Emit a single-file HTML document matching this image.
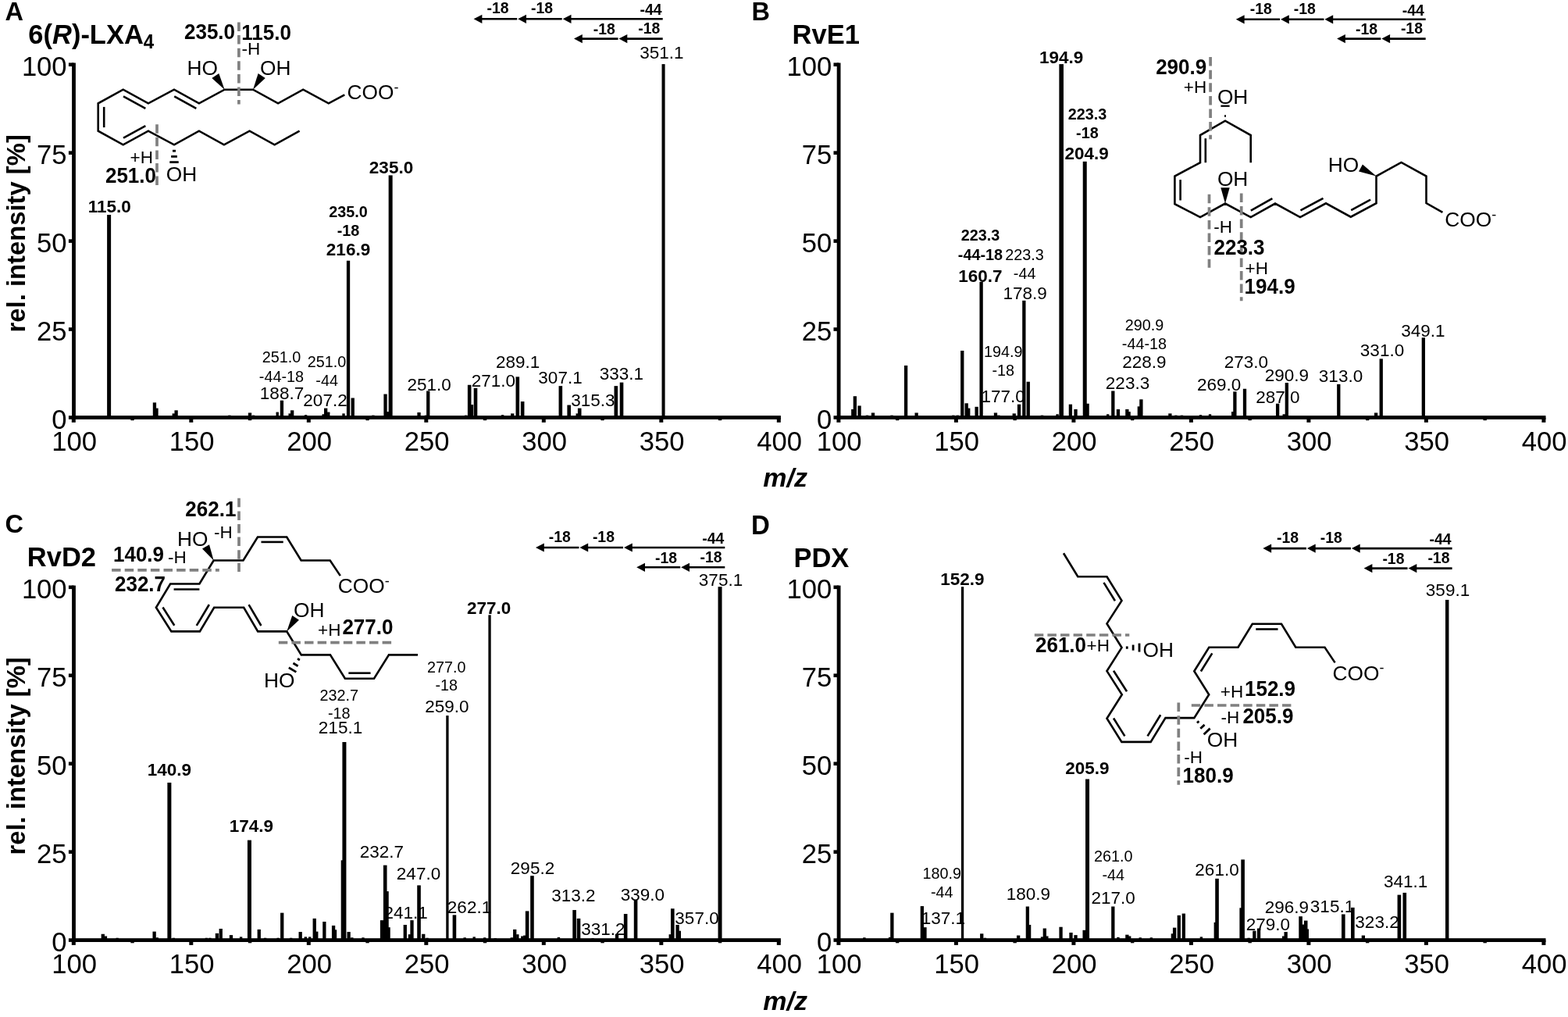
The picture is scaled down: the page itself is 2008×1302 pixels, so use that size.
<!DOCTYPE html>
<html lang="en">
<head>
<meta charset="utf-8">
<title>MS/MS spectra of 6(R)-LXA4, RvE1, RvD2 and PDX</title>
<style>
html,body{margin:0;padding:0;background:#fff;}
body{width:2008px;height:1302px;overflow:hidden;}
svg{display:block;font-family:'Liberation Sans', Arial, Helvetica, sans-serif;fill:#000;stroke:none;}
svg text{stroke:none;}
</style>
</head>
<body>
<svg width="2008" height="1302" viewBox="0 0 2008 1302">
<rect x="0" y="0" width="2008" height="1302" fill="#fff"/>
<text transform="matrix(1 0 0 1.04 6.4 26.1)" font-size="32.5" font-weight="bold">A</text>
<text transform="matrix(1 0 0 1.04 962.5 26.1)" font-size="32.5" font-weight="bold">B</text>
<text transform="matrix(1 0 0 1.04 6.4 682.3)" font-size="32.5" font-weight="bold">C</text>
<text transform="matrix(1 0 0 1.04 962 683.8)" font-size="33" font-weight="bold">D</text>
<text transform="matrix(1 0 0 1.04 36.3 56.2)" font-size="34.5" font-weight="bold">6(<tspan font-style="italic">R</tspan>)-LXA<tspan dy="6" font-size="24">4</tspan></text>
<text transform="matrix(1 0 0 1.04 1014.6 56.2)" font-size="34.5" font-weight="bold">RvE1</text>
<text transform="matrix(1 0 0 1.04 34.8 725.3)" font-size="34.5" font-weight="bold">RvD2</text>
<text transform="matrix(1 0 0 1.04 1016.4 725.6)" font-size="34.5" font-weight="bold">PDX</text>
<text transform="translate(32 298.8) rotate(-90) scale(1 1)" font-size="32.8" font-weight="bold" text-anchor="middle">rel. intensity [%]</text>
<text transform="translate(32 967.9) rotate(-90) scale(1 1)" font-size="32.8" font-weight="bold" text-anchor="middle">rel. intensity [%]</text>
<text transform="matrix(1 0 0 1 1005.6 623)" font-size="34" text-anchor="middle" font-weight="bold" font-style="italic">m/z</text>
<text transform="matrix(1 0 0 1 1005.6 1292.6)" font-size="34" text-anchor="middle" font-weight="bold" font-style="italic">m/z</text>
<rect x="92.1" y="80.5" width="4.8" height="456.4"/>
<rect x="92.1" y="532.1" width="907.8" height="4.8"/>
<rect x="87.9" y="532.2" width="6.6" height="4.6"/>
<text transform="matrix(1 0 0 1.03 85.6 548.9)" font-size="34.6" text-anchor="end">0</text>
<rect x="87.9" y="419.25" width="6.6" height="4.6"/>
<text transform="matrix(1 0 0 1.03 85.6 435.95)" font-size="34.6" text-anchor="end">25</text>
<rect x="87.9" y="306.3" width="6.6" height="4.6"/>
<text transform="matrix(1 0 0 1.03 85.6 323)" font-size="34.6" text-anchor="end">50</text>
<rect x="87.9" y="193.35" width="6.6" height="4.6"/>
<text transform="matrix(1 0 0 1.03 85.6 210.05)" font-size="34.6" text-anchor="end">75</text>
<rect x="87.9" y="80.4" width="6.6" height="4.6"/>
<text transform="matrix(1 0 0 1.03 85.6 97.1)" font-size="34.6" text-anchor="end">100</text>
<rect x="91.8" y="534.5" width="5" height="6.3"/>
<text transform="matrix(1 0 0 1.03 95.1 576.8)" font-size="34.6" text-anchor="middle">100</text>
<rect x="167.35" y="534.5" width="4.4" height="3.7"/>
<rect x="242.3" y="534.5" width="5" height="6.3"/>
<text transform="matrix(1 0 0 1.03 245.6 576.8)" font-size="34.6" text-anchor="middle">150</text>
<rect x="317.85" y="534.5" width="4.4" height="3.7"/>
<rect x="392.8" y="534.5" width="5" height="6.3"/>
<text transform="matrix(1 0 0 1.03 396.1 576.8)" font-size="34.6" text-anchor="middle">200</text>
<rect x="468.35" y="534.5" width="4.4" height="3.7"/>
<rect x="543.3" y="534.5" width="5" height="6.3"/>
<text transform="matrix(1 0 0 1.03 546.6 576.8)" font-size="34.6" text-anchor="middle">250</text>
<rect x="618.85" y="534.5" width="4.4" height="3.7"/>
<rect x="693.8" y="534.5" width="5" height="6.3"/>
<text transform="matrix(1 0 0 1.03 697.1 576.8)" font-size="34.6" text-anchor="middle">300</text>
<rect x="769.35" y="534.5" width="4.4" height="3.7"/>
<rect x="844.3" y="534.5" width="5" height="6.3"/>
<text transform="matrix(1 0 0 1.03 847.6 576.8)" font-size="34.6" text-anchor="middle">350</text>
<rect x="919.85" y="534.5" width="4.4" height="3.7"/>
<rect x="994.8" y="534.5" width="5" height="6.3"/>
<text transform="matrix(1 0 0 1.03 998.1 576.8)" font-size="34.6" text-anchor="middle">400</text>
<rect x="92.1" y="749.6" width="4.8" height="456.4"/>
<rect x="92.1" y="1201.2" width="907.8" height="4.8"/>
<rect x="87.9" y="1201.3" width="6.6" height="4.6"/>
<text transform="matrix(1 0 0 1.03 85.6 1218)" font-size="34.6" text-anchor="end">0</text>
<rect x="87.9" y="1088.35" width="6.6" height="4.6"/>
<text transform="matrix(1 0 0 1.03 85.6 1105.05)" font-size="34.6" text-anchor="end">25</text>
<rect x="87.9" y="975.4" width="6.6" height="4.6"/>
<text transform="matrix(1 0 0 1.03 85.6 992.1)" font-size="34.6" text-anchor="end">50</text>
<rect x="87.9" y="862.45" width="6.6" height="4.6"/>
<text transform="matrix(1 0 0 1.03 85.6 879.15)" font-size="34.6" text-anchor="end">75</text>
<rect x="87.9" y="749.5" width="6.6" height="4.6"/>
<text transform="matrix(1 0 0 1.03 85.6 766.2)" font-size="34.6" text-anchor="end">100</text>
<rect x="91.8" y="1203.6" width="5" height="6.3"/>
<text transform="matrix(1 0 0 1.03 95.1 1245.9)" font-size="34.6" text-anchor="middle">100</text>
<rect x="167.35" y="1203.6" width="4.4" height="3.7"/>
<rect x="242.3" y="1203.6" width="5" height="6.3"/>
<text transform="matrix(1 0 0 1.03 245.6 1245.9)" font-size="34.6" text-anchor="middle">150</text>
<rect x="317.85" y="1203.6" width="4.4" height="3.7"/>
<rect x="392.8" y="1203.6" width="5" height="6.3"/>
<text transform="matrix(1 0 0 1.03 396.1 1245.9)" font-size="34.6" text-anchor="middle">200</text>
<rect x="468.35" y="1203.6" width="4.4" height="3.7"/>
<rect x="543.3" y="1203.6" width="5" height="6.3"/>
<text transform="matrix(1 0 0 1.03 546.6 1245.9)" font-size="34.6" text-anchor="middle">250</text>
<rect x="618.85" y="1203.6" width="4.4" height="3.7"/>
<rect x="693.8" y="1203.6" width="5" height="6.3"/>
<text transform="matrix(1 0 0 1.03 697.1 1245.9)" font-size="34.6" text-anchor="middle">300</text>
<rect x="769.35" y="1203.6" width="4.4" height="3.7"/>
<rect x="844.3" y="1203.6" width="5" height="6.3"/>
<text transform="matrix(1 0 0 1.03 847.6 1245.9)" font-size="34.6" text-anchor="middle">350</text>
<rect x="919.85" y="1203.6" width="4.4" height="3.7"/>
<rect x="994.8" y="1203.6" width="5" height="6.3"/>
<text transform="matrix(1 0 0 1.03 998.1 1245.9)" font-size="34.6" text-anchor="middle">400</text>
<rect x="1071.7" y="80.5" width="4.8" height="456.4"/>
<rect x="1071.7" y="532.1" width="907.8" height="4.8"/>
<rect x="1067.5" y="532.2" width="6.6" height="4.6"/>
<text transform="matrix(1 0 0 1.03 1065.2 548.9)" font-size="34.6" text-anchor="end">0</text>
<rect x="1067.5" y="419.25" width="6.6" height="4.6"/>
<text transform="matrix(1 0 0 1.03 1065.2 435.95)" font-size="34.6" text-anchor="end">25</text>
<rect x="1067.5" y="306.3" width="6.6" height="4.6"/>
<text transform="matrix(1 0 0 1.03 1065.2 323)" font-size="34.6" text-anchor="end">50</text>
<rect x="1067.5" y="193.35" width="6.6" height="4.6"/>
<text transform="matrix(1 0 0 1.03 1065.2 210.05)" font-size="34.6" text-anchor="end">75</text>
<rect x="1067.5" y="80.4" width="6.6" height="4.6"/>
<text transform="matrix(1 0 0 1.03 1065.2 97.1)" font-size="34.6" text-anchor="end">100</text>
<rect x="1071.4" y="534.5" width="5" height="6.3"/>
<text transform="matrix(1 0 0 1.03 1074.7 576.8)" font-size="34.6" text-anchor="middle">100</text>
<rect x="1146.95" y="534.5" width="4.4" height="3.7"/>
<rect x="1221.9" y="534.5" width="5" height="6.3"/>
<text transform="matrix(1 0 0 1.03 1225.2 576.8)" font-size="34.6" text-anchor="middle">150</text>
<rect x="1297.45" y="534.5" width="4.4" height="3.7"/>
<rect x="1372.4" y="534.5" width="5" height="6.3"/>
<text transform="matrix(1 0 0 1.03 1375.7 576.8)" font-size="34.6" text-anchor="middle">200</text>
<rect x="1447.95" y="534.5" width="4.4" height="3.7"/>
<rect x="1522.9" y="534.5" width="5" height="6.3"/>
<text transform="matrix(1 0 0 1.03 1526.2 576.8)" font-size="34.6" text-anchor="middle">250</text>
<rect x="1598.45" y="534.5" width="4.4" height="3.7"/>
<rect x="1673.4" y="534.5" width="5" height="6.3"/>
<text transform="matrix(1 0 0 1.03 1676.7 576.8)" font-size="34.6" text-anchor="middle">300</text>
<rect x="1748.95" y="534.5" width="4.4" height="3.7"/>
<rect x="1823.9" y="534.5" width="5" height="6.3"/>
<text transform="matrix(1 0 0 1.03 1827.2 576.8)" font-size="34.6" text-anchor="middle">350</text>
<rect x="1899.45" y="534.5" width="4.4" height="3.7"/>
<rect x="1974.4" y="534.5" width="5" height="6.3"/>
<text transform="matrix(1 0 0 1.03 1977.7 576.8)" font-size="34.6" text-anchor="middle">400</text>
<rect x="1071.7" y="749.6" width="4.8" height="456.4"/>
<rect x="1071.7" y="1201.2" width="907.8" height="4.8"/>
<rect x="1067.5" y="1201.3" width="6.6" height="4.6"/>
<text transform="matrix(1 0 0 1.03 1065.2 1218)" font-size="34.6" text-anchor="end">0</text>
<rect x="1067.5" y="1088.35" width="6.6" height="4.6"/>
<text transform="matrix(1 0 0 1.03 1065.2 1105.05)" font-size="34.6" text-anchor="end">25</text>
<rect x="1067.5" y="975.4" width="6.6" height="4.6"/>
<text transform="matrix(1 0 0 1.03 1065.2 992.1)" font-size="34.6" text-anchor="end">50</text>
<rect x="1067.5" y="862.45" width="6.6" height="4.6"/>
<text transform="matrix(1 0 0 1.03 1065.2 879.15)" font-size="34.6" text-anchor="end">75</text>
<rect x="1067.5" y="749.5" width="6.6" height="4.6"/>
<text transform="matrix(1 0 0 1.03 1065.2 766.2)" font-size="34.6" text-anchor="end">100</text>
<rect x="1071.4" y="1203.6" width="5" height="6.3"/>
<text transform="matrix(1 0 0 1.03 1074.7 1245.9)" font-size="34.6" text-anchor="middle">100</text>
<rect x="1146.95" y="1203.6" width="4.4" height="3.7"/>
<rect x="1221.9" y="1203.6" width="5" height="6.3"/>
<text transform="matrix(1 0 0 1.03 1225.2 1245.9)" font-size="34.6" text-anchor="middle">150</text>
<rect x="1297.45" y="1203.6" width="4.4" height="3.7"/>
<rect x="1372.4" y="1203.6" width="5" height="6.3"/>
<text transform="matrix(1 0 0 1.03 1375.7 1245.9)" font-size="34.6" text-anchor="middle">200</text>
<rect x="1447.95" y="1203.6" width="4.4" height="3.7"/>
<rect x="1522.9" y="1203.6" width="5" height="6.3"/>
<text transform="matrix(1 0 0 1.03 1526.2 1245.9)" font-size="34.6" text-anchor="middle">250</text>
<rect x="1598.45" y="1203.6" width="4.4" height="3.7"/>
<rect x="1673.4" y="1203.6" width="5" height="6.3"/>
<text transform="matrix(1 0 0 1.03 1676.7 1245.9)" font-size="34.6" text-anchor="middle">300</text>
<rect x="1748.95" y="1203.6" width="4.4" height="3.7"/>
<rect x="1823.9" y="1203.6" width="5" height="6.3"/>
<text transform="matrix(1 0 0 1.03 1827.2 1245.9)" font-size="34.6" text-anchor="middle">350</text>
<rect x="1899.45" y="1203.6" width="4.4" height="3.7"/>
<rect x="1974.4" y="1203.6" width="5" height="6.3"/>
<text transform="matrix(1 0 0 1.03 1977.7 1245.9)" font-size="34.6" text-anchor="middle">400</text>
<rect x="137.11" y="275.02" width="5" height="259.48"/>
<rect x="195.79" y="515.38" width="4.3" height="19.12"/>
<rect x="199.25" y="522.61" width="3.4" height="11.89"/>
<rect x="220.6" y="529.38" width="3.4" height="5.12"/>
<rect x="223.46" y="525.32" width="4.3" height="9.18"/>
<rect x="292.16" y="531.64" width="3.4" height="2.86"/>
<rect x="317.88" y="528.48" width="4.3" height="6.02"/>
<rect x="322.84" y="531.64" width="3.4" height="2.86"/>
<rect x="353.51" y="527.57" width="3.4" height="6.93"/>
<rect x="358.77" y="512.67" width="4.3" height="21.83"/>
<rect x="369.44" y="529.38" width="3.4" height="5.12"/>
<rect x="372" y="525.32" width="4.3" height="9.18"/>
<rect x="389.89" y="531.19" width="3.4" height="3.31"/>
<rect x="412.44" y="530.29" width="3.4" height="4.21"/>
<rect x="415" y="522.61" width="4.3" height="11.89"/>
<rect x="419.06" y="527.57" width="3.4" height="6.93"/>
<rect x="438.3" y="529.38" width="3.4" height="5.12"/>
<rect x="443.87" y="333.75" width="4.3" height="200.75"/>
<rect x="449.58" y="509.5" width="4.3" height="25"/>
<rect x="476.19" y="531.64" width="3.4" height="2.86"/>
<rect x="491.38" y="504.53" width="4.3" height="29.97"/>
<rect x="494.84" y="527.12" width="3.4" height="7.38"/>
<rect x="497.64" y="224.42" width="5" height="310.08"/>
<rect x="534.38" y="528.03" width="4.3" height="6.47"/>
<rect x="543.85" y="531.64" width="3.4" height="2.86"/>
<rect x="546.11" y="500.47" width="4.3" height="34.03"/>
<rect x="594.97" y="531.64" width="3.4" height="2.86"/>
<rect x="598.88" y="492.79" width="4.6" height="41.71"/>
<rect x="602.79" y="518.09" width="3.4" height="16.41"/>
<rect x="606.7" y="496.85" width="4.6" height="37.65"/>
<rect x="641.88" y="531.19" width="3.4" height="3.31"/>
<rect x="654.06" y="529.38" width="4.3" height="5.12"/>
<rect x="660.52" y="482.39" width="4.6" height="52.11"/>
<rect x="666.84" y="514.02" width="4.6" height="20.48"/>
<rect x="715.55" y="494.14" width="4.6" height="40.36"/>
<rect x="726.38" y="518.54" width="4.6" height="15.96"/>
<rect x="737.5" y="529.38" width="3.4" height="5.12"/>
<rect x="739.91" y="522.61" width="4.6" height="11.89"/>
<rect x="786.52" y="494.14" width="4.6" height="40.36"/>
<rect x="793.73" y="489.62" width="4.6" height="44.88"/>
<rect x="847.53" y="82.1" width="4.05" height="452.4"/>
<text transform="matrix(1 0 0 1.03 360.4 464.2)" font-size="19.8" text-anchor="middle">251.0</text>
<text transform="matrix(1 0 0 1.03 360.4 488.6)" font-size="19.8" text-anchor="middle">-44-18</text>
<text transform="matrix(1 0 0 0.97 361 510.6)" font-size="22.5" text-anchor="middle">188.7</text>
<text transform="matrix(1 0 0 1.03 418.6 470.3)" font-size="19.8" text-anchor="middle">251.0</text>
<text transform="matrix(1 0 0 1.03 418.6 493.9)" font-size="19.8" text-anchor="middle">-44</text>
<text transform="matrix(1 0 0 0.97 416.5 519.8)" font-size="22.5" text-anchor="middle">207.2</text>
<text transform="matrix(1 0 0 0.97 549.6 500.2)" font-size="22.5" text-anchor="middle">251.0</text>
<text transform="matrix(1 0 0 0.97 631.9 494.5)" font-size="22.5" text-anchor="middle">271.0</text>
<text transform="matrix(1 0 0 0.97 663.2 470.9)" font-size="22.5" text-anchor="middle">289.1</text>
<text transform="matrix(1 0 0 0.97 717.5 491.1)" font-size="22.5" text-anchor="middle">307.1</text>
<text transform="matrix(1 0 0 0.97 759.3 520)" font-size="22.5" text-anchor="middle">315.3</text>
<text transform="matrix(1 0 0 0.97 795.9 486.4)" font-size="22.5" text-anchor="middle">333.1</text>
<text transform="matrix(1 0 0 0.97 847.3 75.2)" font-size="22.5" text-anchor="middle">351.1</text>
<text transform="matrix(1 0 0 0.97 140.3 272.1)" font-size="22.5" text-anchor="middle" font-weight="bold">115.0</text>
<text transform="matrix(1 0 0 1.03 446 278.1)" font-size="19.8" text-anchor="middle" font-weight="bold">235.0</text>
<text transform="matrix(1 0 0 1.03 446 302)" font-size="19.8" text-anchor="middle" font-weight="bold">-18</text>
<text transform="matrix(1 0 0 0.97 446 326.5)" font-size="22.5" text-anchor="middle" font-weight="bold">216.9</text>
<text transform="matrix(1 0 0 0.97 501 222)" font-size="22.5" text-anchor="middle" font-weight="bold">235.0</text>
<line x1="730.2" y1="24.3" x2="848.7" y2="24.3" stroke-width="2.6" stroke="#000"/>
<polygon points="720.7,24.3 731.5,18.7 731.5,29.9"/>
<line x1="672.7" y1="24.3" x2="719.7" y2="24.3" stroke-width="2.6" stroke="#000"/>
<polygon points="663.2,24.3 674,18.7 674,29.9"/>
<line x1="616.1" y1="24.3" x2="662.2" y2="24.3" stroke-width="2.6" stroke="#000"/>
<polygon points="606.6,24.3 617.4,18.7 617.4,29.9"/>
<line x1="802" y1="49.6" x2="848.7" y2="49.6" stroke-width="2.6" stroke="#000"/>
<polygon points="792.5,49.6 803.3,44 803.3,55.2"/>
<line x1="744.5" y1="49.6" x2="791.5" y2="49.6" stroke-width="2.6" stroke="#000"/>
<polygon points="735,49.6 745.8,44 745.8,55.2"/>
<text transform="matrix(1 0 0 1.01 637.6 17.2)" font-size="19.4" text-anchor="middle" font-weight="bold">-18</text>
<text transform="matrix(1 0 0 1.01 694 17.2)" font-size="19.4" text-anchor="middle" font-weight="bold">-18</text>
<text transform="matrix(1 0 0 1.01 833.5 19.2)" font-size="19.4" text-anchor="middle" font-weight="bold">-44</text>
<text transform="matrix(1 0 0 1.01 773.7 44.2)" font-size="19.4" text-anchor="middle" font-weight="bold">-18</text>
<text transform="matrix(1 0 0 1.01 831.2 43)" font-size="19.4" text-anchor="middle" font-weight="bold">-18</text>
<polyline points="383.6,167.6 351.6,185.3 319.6,167.7 286.9,185.3 254.9,167.7 223,185.3 189.9,167.7 157.7,185.3 125.7,167.7 125.7,132.3 157.7,114.7 189.9,132.3 223,114.7 254.9,132.3 287.6,114.7 324,114.7 356.1,132.3 388.2,114.7 420.8,132.3 441.3,121.4" fill="none" stroke="#000" stroke-width="2.6" stroke-linejoin="miter" stroke-linecap="butt"/>
<line x1="133.2" y1="163.1" x2="133.2" y2="136.9" stroke-width="2.6" stroke="#000"/>
<line x1="158.01" y1="123.31" x2="186.35" y2="138.79" stroke-width="2.6" stroke="#000"/>
<line x1="223.25" y1="123.29" x2="251.33" y2="138.78" stroke-width="2.6" stroke="#000"/>
<line x1="186.35" y1="161.21" x2="158.01" y2="176.69" stroke-width="2.6" stroke="#000"/>
<polygon points="287.6,114.7 280.29,94 271.31,100"/>
<polygon points="324,114.7 339.76,99.89 330.64,94.11"/>
<line x1="225.02" y1="193.19" x2="220.98" y2="193.19" stroke-width="2.8" stroke="#000"/>
<line x1="226.86" y1="200.4" x2="219.14" y2="200.4" stroke-width="2.8" stroke="#000"/>
<line x1="228.7" y1="207.6" x2="217.3" y2="207.6" stroke-width="2.8" stroke="#000"/>
<text transform="matrix(1 0 0 1 239.4 96.4)" font-size="26.3">HO</text>
<text transform="matrix(1 0 0 1 333 96.4)" font-size="26.3">OH</text>
<text transform="matrix(1 0 0 1 212.8 231.6)" font-size="26.3">OH</text>
<text transform="matrix(1 0 0 1 444.6 127.1)" font-size="26.3">COO<tspan dy="-9.5" font-size="18">-</tspan></text>
<line x1="305.9" y1="28.5" x2="305.9" y2="133.5" stroke="#808080" stroke-width="3.7" stroke-dasharray="11.5 5.1"/>
<line x1="201" y1="159.2" x2="201" y2="237.5" stroke="#808080" stroke-width="3.7" stroke-dasharray="11.5 5.1"/>
<text transform="matrix(1 0 0 1.04 268.5 50.4)" font-size="26" text-anchor="middle" font-weight="bold">235.0</text>
<text transform="matrix(1 0 0 1.04 341.1 50.7)" font-size="26" text-anchor="middle" font-weight="bold">115.0</text>
<text transform="matrix(1 0 0 0.97 309.4 69.6)" font-size="22.5">-H</text>
<text transform="matrix(1 0 0 0.97 196 209.4)" font-size="22.5" text-anchor="end">+H</text>
<text transform="matrix(1 0 0 1.04 200 233.6)" font-size="26" text-anchor="end" font-weight="bold">251.0</text>
<rect x="1090.14" y="523.96" width="3.4" height="10.54"/>
<rect x="1092.7" y="507.24" width="4.3" height="27.26"/>
<rect x="1098.41" y="519.44" width="4.3" height="15.06"/>
<rect x="1108.78" y="531.64" width="3.4" height="2.86"/>
<rect x="1115.85" y="528.48" width="4.3" height="6.02"/>
<rect x="1140.36" y="531.64" width="3.4" height="2.86"/>
<rect x="1157.95" y="467.94" width="4.3" height="66.56"/>
<rect x="1171.48" y="528.48" width="4.3" height="6.02"/>
<rect x="1219.14" y="531.64" width="3.4" height="2.86"/>
<rect x="1224.55" y="531.64" width="3.4" height="2.86"/>
<rect x="1230.12" y="448.96" width="4.3" height="85.54"/>
<rect x="1235.53" y="516.28" width="4.3" height="18.22"/>
<rect x="1238.99" y="522.61" width="3.4" height="11.89"/>
<rect x="1248.46" y="520.8" width="4.3" height="13.7"/>
<rect x="1254.47" y="360.86" width="4.3" height="173.64"/>
<rect x="1272.82" y="528.48" width="4.3" height="6.02"/>
<rect x="1277.18" y="531.64" width="3.4" height="2.86"/>
<rect x="1296.57" y="529.38" width="4.3" height="5.12"/>
<rect x="1302.89" y="517.64" width="4.3" height="16.86"/>
<rect x="1309.2" y="384.81" width="4.3" height="149.69"/>
<rect x="1314.61" y="488.72" width="4.3" height="45.78"/>
<rect x="1332.81" y="531.64" width="3.4" height="2.86"/>
<rect x="1352.35" y="530.29" width="3.4" height="4.21"/>
<rect x="1356.36" y="82.1" width="5.6" height="452.4"/>
<rect x="1368.74" y="517.64" width="4.3" height="16.86"/>
<rect x="1375.36" y="523.96" width="4.3" height="10.54"/>
<rect x="1386.73" y="206.8" width="5" height="327.7"/>
<rect x="1390.94" y="516.73" width="3.8" height="17.77"/>
<rect x="1417" y="530.29" width="3.4" height="4.21"/>
<rect x="1423.17" y="500.47" width="4.3" height="34.03"/>
<rect x="1429.78" y="523.96" width="4.3" height="10.54"/>
<rect x="1441.21" y="523.96" width="4.3" height="10.54"/>
<rect x="1444.37" y="527.12" width="3.4" height="7.38"/>
<rect x="1456.69" y="520.35" width="3.4" height="14.15"/>
<rect x="1459.25" y="511.31" width="4.3" height="23.19"/>
<rect x="1496.24" y="529.38" width="4.3" height="5.12"/>
<rect x="1504.2" y="531.64" width="3.4" height="2.86"/>
<rect x="1511.72" y="531.64" width="3.4" height="2.86"/>
<rect x="1535.78" y="531.19" width="3.4" height="3.31"/>
<rect x="1547.81" y="530.29" width="3.4" height="4.21"/>
<rect x="1576.97" y="527.12" width="3.4" height="7.38"/>
<rect x="1579.23" y="501.37" width="4.3" height="33.13"/>
<rect x="1591.86" y="497.76" width="4.3" height="36.74"/>
<rect x="1633.96" y="516.73" width="4.3" height="17.77"/>
<rect x="1642.53" y="530.29" width="3.4" height="4.21"/>
<rect x="1645.68" y="490.08" width="4.3" height="44.42"/>
<rect x="1712.14" y="491.88" width="4.3" height="42.62"/>
<rect x="1759.95" y="528.48" width="4.3" height="6.02"/>
<rect x="1766.57" y="459.35" width="4.3" height="75.15"/>
<rect x="1820.69" y="432.25" width="4.3" height="102.25"/>
<text transform="matrix(1 0 0 1.03 1312.1 333)" font-size="19.8" text-anchor="middle">223.3</text>
<text transform="matrix(1 0 0 1.03 1312.1 356.6)" font-size="19.8" text-anchor="middle">-44</text>
<text transform="matrix(1 0 0 0.97 1312.6 382.7)" font-size="22.5" text-anchor="middle">178.9</text>
<text transform="matrix(1 0 0 1.03 1284.7 457.1)" font-size="19.8" text-anchor="middle">194.9</text>
<text transform="matrix(1 0 0 1.03 1284.7 480.6)" font-size="19.8" text-anchor="middle">-18</text>
<text transform="matrix(1 0 0 0.97 1284.7 514.6)" font-size="22.5" text-anchor="middle">177.0</text>
<text transform="matrix(1 0 0 1.03 1465.4 423.2)" font-size="19.8" text-anchor="middle">290.9</text>
<text transform="matrix(1 0 0 1.03 1465.4 447.2)" font-size="19.8" text-anchor="middle">-44-18</text>
<text transform="matrix(1 0 0 0.97 1465.4 470.8)" font-size="22.5" text-anchor="middle">228.9</text>
<text transform="matrix(1 0 0 0.97 1444 498.3)" font-size="22.5" text-anchor="middle">223.3</text>
<text transform="matrix(1 0 0 0.97 1561.1 499.7)" font-size="22.5" text-anchor="middle">269.0</text>
<text transform="matrix(1 0 0 0.97 1595.9 471)" font-size="22.5" text-anchor="middle">273.0</text>
<text transform="matrix(1 0 0 0.97 1636.3 515.9)" font-size="22.5" text-anchor="middle">287.0</text>
<text transform="matrix(1 0 0 0.97 1647.8 487.9)" font-size="22.5" text-anchor="middle">290.9</text>
<text transform="matrix(1 0 0 0.97 1717 489.2)" font-size="22.5" text-anchor="middle">313.0</text>
<text transform="matrix(1 0 0 0.97 1770 456.3)" font-size="22.5" text-anchor="middle">331.0</text>
<text transform="matrix(1 0 0 0.97 1822.3 431)" font-size="22.5" text-anchor="middle">349.1</text>
<text transform="matrix(1 0 0 0.97 1359.1 81)" font-size="22.5" text-anchor="middle" font-weight="bold">194.9</text>
<text transform="matrix(1 0 0 1.03 1392.4 152.8)" font-size="19.8" text-anchor="middle" font-weight="bold">223.3</text>
<text transform="matrix(1 0 0 1.03 1392.4 177.4)" font-size="19.8" text-anchor="middle" font-weight="bold">-18</text>
<text transform="matrix(1 0 0 0.97 1391.7 203.7)" font-size="22.5" text-anchor="middle" font-weight="bold">204.9</text>
<text transform="matrix(1 0 0 1.03 1255.4 308.2)" font-size="19.8" text-anchor="middle" font-weight="bold">223.3</text>
<text transform="matrix(1 0 0 1.03 1255.4 333)" font-size="19.8" text-anchor="middle" font-weight="bold">-44-18</text>
<text transform="matrix(1 0 0 0.97 1255.4 360.5)" font-size="22.5" text-anchor="middle" font-weight="bold">160.7</text>
<line x1="1705.9" y1="24.8" x2="1825.7" y2="24.8" stroke-width="2.6" stroke="#000"/>
<polygon points="1696.4,24.8 1707.2,19.2 1707.2,30.4"/>
<line x1="1649.5" y1="24.8" x2="1695.4" y2="24.8" stroke-width="2.6" stroke="#000"/>
<polygon points="1640,24.8 1650.8,19.2 1650.8,30.4"/>
<line x1="1592.3" y1="24.8" x2="1639" y2="24.8" stroke-width="2.6" stroke="#000"/>
<polygon points="1582.8,24.8 1593.6,19.2 1593.6,30.4"/>
<line x1="1778.8" y1="49.6" x2="1825.7" y2="49.6" stroke-width="2.6" stroke="#000"/>
<polygon points="1769.3,49.6 1780.1,44 1780.1,55.2"/>
<line x1="1721.6" y1="49.6" x2="1768.3" y2="49.6" stroke-width="2.6" stroke="#000"/>
<polygon points="1712.1,49.6 1722.9,44 1722.9,55.2"/>
<text transform="matrix(1 0 0 1.01 1614.7 17.8)" font-size="19.4" text-anchor="middle" font-weight="bold">-18</text>
<text transform="matrix(1 0 0 1.01 1670.8 17.8)" font-size="19.4" text-anchor="middle" font-weight="bold">-18</text>
<text transform="matrix(1 0 0 1.01 1809.8 19.6)" font-size="19.4" text-anchor="middle" font-weight="bold">-44</text>
<text transform="matrix(1 0 0 1.01 1750 43.9)" font-size="19.4" text-anchor="middle" font-weight="bold">-18</text>
<text transform="matrix(1 0 0 1.01 1807.9 42.6)" font-size="19.4" text-anchor="middle" font-weight="bold">-18</text>
<polyline points="1601.7,208.2 1601.7,173 1569,154.7 1537,173 1537,208.2 1504.4,225.5 1504.4,261.1 1537,278.1 1569,260.5 1601.7,278.1 1633,260.5 1665,278.1 1698,260.3 1729.8,277.7 1762.5,260.1 1762.5,225.5 1794.5,207.9 1826.5,225.5 1826.5,260.1 1847.4,271.9" fill="none" stroke="#000" stroke-width="2.6" stroke-linejoin="miter" stroke-linecap="butt"/>
<line x1="1543.8" y1="177.22" x2="1543.8" y2="208.2" stroke-width="2.6" stroke="#000"/>
<line x1="1511.6" y1="230.13" x2="1511.6" y2="256.47" stroke-width="2.6" stroke="#000"/>
<line x1="1601.83" y1="269.54" x2="1629.37" y2="254.05" stroke-width="2.6" stroke="#000"/>
<line x1="1665.45" y1="269.45" x2="1694.49" y2="253.79" stroke-width="2.6" stroke="#000"/>
<line x1="1730.22" y1="269.07" x2="1755.07" y2="255.7" stroke-width="2.6" stroke="#000"/>
<polygon points="1569,260.5 1574.7,240.2 1563.3,240.2"/>
<polygon points="1762.5,225.5 1744.92,210.4 1740.08,219.6"/>
<line x1="1568" y1="148.5" x2="1570" y2="148.5" stroke-width="2.3" stroke="#000"/>
<line x1="1563.4" y1="135.7" x2="1574.6" y2="135.7" stroke-width="2.3" stroke="#000"/>
<text transform="matrix(1 0 0 1 1558.9 132.5)" font-size="26.3">OH</text>
<text transform="matrix(1 0 0 1 1558.9 237.6)" font-size="26.3">OH</text>
<text transform="matrix(1 0 0 1 1700.8 220.3)" font-size="26.3">HO</text>
<text transform="matrix(1 0 0 1 1850.3 290.1)" font-size="26.3">COO<tspan dy="-9.5" font-size="18">-</tspan></text>
<line x1="1550.1" y1="73.1" x2="1550.1" y2="178.2" stroke="#808080" stroke-width="3.7" stroke-dasharray="11.5 5.1"/>
<line x1="1548.5" y1="248.7" x2="1548.5" y2="342.7" stroke="#808080" stroke-width="3.7" stroke-dasharray="11.5 5.1"/>
<line x1="1589.7" y1="247.4" x2="1589.7" y2="385.2" stroke="#808080" stroke-width="3.7" stroke-dasharray="11.5 5.1"/>
<text transform="matrix(1 0 0 1.04 1545.2 95.3)" font-size="26" text-anchor="end" font-weight="bold">290.9</text>
<text transform="matrix(1 0 0 0.97 1545.2 119.4)" font-size="22.5" text-anchor="end">+H</text>
<text transform="matrix(1 0 0 0.97 1554.2 298.3)" font-size="22.5">-H</text>
<text transform="matrix(1 0 0 1.04 1554.5 325.5)" font-size="26" font-weight="bold">223.3</text>
<text transform="matrix(1 0 0 0.97 1594.6 350.6)" font-size="22.5">+H</text>
<text transform="matrix(1 0 0 1.04 1593.6 376)" font-size="26" font-weight="bold">194.9</text>
<rect x="129.64" y="1195.77" width="4.3" height="7.83"/>
<rect x="133.7" y="1198.48" width="3.4" height="5.12"/>
<rect x="148.43" y="1200.74" width="3.4" height="2.86"/>
<rect x="195.49" y="1192.61" width="4.3" height="10.99"/>
<rect x="199.55" y="1200.29" width="3.4" height="3.31"/>
<rect x="214.38" y="1001.95" width="5" height="201.65"/>
<rect x="220.6" y="1200.74" width="3.4" height="2.86"/>
<rect x="262.7" y="1200.74" width="3.4" height="2.86"/>
<rect x="267.21" y="1200.74" width="3.4" height="2.86"/>
<rect x="275.78" y="1194.87" width="4.3" height="8.73"/>
<rect x="280.59" y="1188.99" width="4.3" height="14.61"/>
<rect x="293.82" y="1197.13" width="4.3" height="6.47"/>
<rect x="306.9" y="1199.39" width="3.4" height="4.21"/>
<rect x="316.92" y="1075.59" width="5" height="128.01"/>
<rect x="329.6" y="1189.9" width="4.3" height="13.7"/>
<rect x="337.87" y="1200.74" width="3.4" height="2.86"/>
<rect x="354.41" y="1200.74" width="3.4" height="2.86"/>
<rect x="359.07" y="1168.66" width="4.3" height="34.94"/>
<rect x="370.95" y="1200.74" width="3.4" height="2.86"/>
<rect x="382.53" y="1193.06" width="4.3" height="10.54"/>
<rect x="389.59" y="1199.39" width="3.4" height="4.21"/>
<rect x="395" y="1199.39" width="3.4" height="4.21"/>
<rect x="400.57" y="1175.89" width="4.3" height="27.71"/>
<rect x="404.02" y="1192.61" width="3.4" height="10.99"/>
<rect x="413.2" y="1179.96" width="4.3" height="23.64"/>
<rect x="424.92" y="1184.93" width="4.3" height="18.67"/>
<rect x="427.78" y="1190.35" width="3.4" height="13.25"/>
<rect x="436.7" y="1101.34" width="3" height="102.25"/>
<rect x="438.41" y="949.99" width="5" height="253.61"/>
<rect x="444.47" y="1193.06" width="4.3" height="10.54"/>
<rect x="449.13" y="1200.29" width="3.4" height="3.31"/>
<rect x="463.26" y="1200.29" width="3.4" height="3.31"/>
<rect x="486.87" y="1178.15" width="4.3" height="25.45"/>
<rect x="490.93" y="1107.67" width="4.6" height="95.93"/>
<rect x="494.13" y="1141.1" width="3.6" height="62.5"/>
<rect x="496.34" y="1187.19" width="3.4" height="16.41"/>
<rect x="516.64" y="1184.02" width="4.3" height="19.58"/>
<rect x="522.8" y="1196.22" width="3.4" height="7.38"/>
<rect x="525.36" y="1178.15" width="4.3" height="25.45"/>
<rect x="534.23" y="1133.42" width="4.6" height="70.18"/>
<rect x="540.09" y="1195.77" width="4.3" height="7.83"/>
<rect x="545.35" y="1200.74" width="3.4" height="2.86"/>
<rect x="571.26" y="916.11" width="3.3" height="287.49"/>
<rect x="579.63" y="1171.37" width="4.6" height="32.23"/>
<rect x="593.47" y="1200.29" width="3.4" height="3.31"/>
<rect x="605.49" y="1199.39" width="3.4" height="4.21"/>
<rect x="619.02" y="1200.29" width="3.4" height="3.31"/>
<rect x="625.39" y="787.34" width="3.3" height="416.26"/>
<rect x="632.56" y="1201.19" width="3.4" height="2.41"/>
<rect x="653.61" y="1200.29" width="3.4" height="3.31"/>
<rect x="657.06" y="1189.9" width="4.3" height="13.7"/>
<rect x="661.12" y="1196.22" width="3.4" height="7.38"/>
<rect x="667.14" y="1198.48" width="3.4" height="5.12"/>
<rect x="670.14" y="1197.58" width="3.4" height="6.02"/>
<rect x="672.85" y="1166.4" width="4.6" height="37.2"/>
<rect x="679.17" y="1121.22" width="4.6" height="82.38"/>
<rect x="713.75" y="1199.84" width="3.4" height="3.76"/>
<rect x="733.29" y="1165.05" width="4.6" height="38.55"/>
<rect x="738.71" y="1175.89" width="4.6" height="27.71"/>
<rect x="757.35" y="1201.19" width="3.4" height="2.41"/>
<rect x="787.87" y="1195.77" width="4.3" height="7.83"/>
<rect x="798.85" y="1170.02" width="4.6" height="33.58"/>
<rect x="811.78" y="1151.95" width="4.6" height="51.65"/>
<rect x="856.58" y="1196.22" width="3.4" height="7.38"/>
<rect x="858.99" y="1163.24" width="4.6" height="40.36"/>
<rect x="865.45" y="1184.02" width="4.3" height="19.58"/>
<rect x="868.61" y="1191.7" width="3.4" height="11.89"/>
<rect x="919.53" y="751.2" width="5" height="452.4"/>
<text transform="matrix(1 0 0 0.97 488.9 1097.8)" font-size="22.5" text-anchor="middle">232.7</text>
<text transform="matrix(1 0 0 0.97 519.6 1176.2)" font-size="22.5" text-anchor="middle">241.1</text>
<text transform="matrix(1 0 0 0.97 536 1126)" font-size="22.5" text-anchor="middle">247.0</text>
<text transform="matrix(1 0 0 0.97 601 1168.8)" font-size="22.5" text-anchor="middle">262.1</text>
<text transform="matrix(1 0 0 0.97 682 1119.2)" font-size="22.5" text-anchor="middle">295.2</text>
<text transform="matrix(1 0 0 0.97 734.3 1153.6)" font-size="22.5" text-anchor="middle">313.2</text>
<text transform="matrix(1 0 0 0.97 772.4 1197)" font-size="22.5" text-anchor="middle">331.2</text>
<text transform="matrix(1 0 0 0.97 822.8 1153.4)" font-size="22.5" text-anchor="middle">339.0</text>
<text transform="matrix(1 0 0 0.97 892.5 1182.7)" font-size="22.5" text-anchor="middle">357.0</text>
<text transform="matrix(1 0 0 0.97 923 750.1)" font-size="22.5" text-anchor="middle">375.1</text>
<text transform="matrix(1 0 0 1.03 571.8 860.6)" font-size="19.8" text-anchor="middle">277.0</text>
<text transform="matrix(1 0 0 1.03 571.8 884.1)" font-size="19.8" text-anchor="middle">-18</text>
<text transform="matrix(1 0 0 0.97 572.3 911.5)" font-size="22.5" text-anchor="middle">259.0</text>
<text transform="matrix(1 0 0 1.03 434.3 896.9)" font-size="19.8" text-anchor="middle">232.7</text>
<text transform="matrix(1 0 0 1.03 434.3 919.9)" font-size="19.8" text-anchor="middle">-18</text>
<text transform="matrix(1 0 0 0.97 436 938.6)" font-size="22.5" text-anchor="middle">215.1</text>
<text transform="matrix(1 0 0 0.97 216.8 993.3)" font-size="22.5" text-anchor="middle" font-weight="bold">140.9</text>
<text transform="matrix(1 0 0 0.97 321.8 1065.2)" font-size="22.5" text-anchor="middle" font-weight="bold">174.9</text>
<text transform="matrix(1 0 0 0.97 626.1 785.9)" font-size="22.5" text-anchor="middle" font-weight="bold">277.0</text>
<line x1="808.5" y1="701" x2="928.3" y2="701" stroke-width="2.6" stroke="#000"/>
<polygon points="799,701 809.8,695.4 809.8,706.6"/>
<line x1="751.9" y1="701" x2="798" y2="701" stroke-width="2.6" stroke="#000"/>
<polygon points="742.4,701 753.2,695.4 753.2,706.6"/>
<line x1="695.5" y1="701" x2="741.4" y2="701" stroke-width="2.6" stroke="#000"/>
<polygon points="686,701 696.8,695.4 696.8,706.6"/>
<line x1="881.7" y1="726.3" x2="928.3" y2="726.3" stroke-width="2.6" stroke="#000"/>
<polygon points="872.2,726.3 883,720.7 883,731.9"/>
<line x1="824.7" y1="726.3" x2="871.2" y2="726.3" stroke-width="2.6" stroke="#000"/>
<polygon points="815.2,726.3 826,720.7 826,731.9"/>
<text transform="matrix(1 0 0 1.01 716.8 694)" font-size="19.4" text-anchor="middle" font-weight="bold">-18</text>
<text transform="matrix(1 0 0 1.01 772.9 694)" font-size="19.4" text-anchor="middle" font-weight="bold">-18</text>
<text transform="matrix(1 0 0 1.01 913.2 696.4)" font-size="19.4" text-anchor="middle" font-weight="bold">-44</text>
<text transform="matrix(1 0 0 1.01 853.1 720.9)" font-size="19.4" text-anchor="middle" font-weight="bold">-18</text>
<text transform="matrix(1 0 0 1.01 910.6 719.5)" font-size="19.4" text-anchor="middle" font-weight="bold">-18</text>
<polyline points="435.8,737.1 422.7,717.5 385.6,717.5 367.2,687.5 330,687.5 311.5,717.5 273.6,717.5 255.4,747.5 218.1,747.5 199.9,777.8 219.4,808.4 255.9,808.4 274.2,777.8 312.2,777.8 330.2,808.4 367.2,808.4 385.8,838.4 422.9,838.4 441.9,868.7 479,868.7 498,838.4 535,838.4" fill="none" stroke="#000" stroke-width="2.6" stroke-linejoin="miter" stroke-linecap="butt"/>
<line x1="362.74" y1="693.9" x2="334.46" y2="693.9" stroke-width="2.6" stroke="#000"/>
<line x1="255.4" y1="754.5" x2="222.58" y2="754.5" stroke-width="2.6" stroke="#000"/>
<line x1="208.48" y1="777.5" x2="223.3" y2="800.75" stroke-width="2.6" stroke="#000"/>
<line x1="251.75" y1="800.93" x2="267.85" y2="774" stroke-width="2.6" stroke="#000"/>
<line x1="318.58" y1="774.05" x2="334.42" y2="800.98" stroke-width="2.6" stroke="#000"/>
<line x1="446.35" y1="861.7" x2="474.55" y2="861.7" stroke-width="2.6" stroke="#000"/>
<polygon points="273.6,717.5 268.01,697.31 258.99,702.49"/>
<polygon points="367.2,808.4 382.96,793.74 374.24,788.06"/>
<line x1="383.87" y1="844.99" x2="381.01" y2="843.33" stroke-width="2.8" stroke="#000"/>
<line x1="381.61" y1="852.68" x2="375.43" y2="849.08" stroke-width="2.8" stroke="#000"/>
<line x1="379.35" y1="860.37" x2="369.85" y2="854.83" stroke-width="2.8" stroke="#000"/>
<text transform="matrix(1 0 0 1 226.9 698.6)" font-size="26.3">HO</text>
<text transform="matrix(1 0 0 1 376 789.8)" font-size="26.3">OH</text>
<text transform="matrix(1 0 0 1 338.1 880.1)" font-size="26.3">HO</text>
<text transform="matrix(1 0 0 1 432.8 759.3)" font-size="26.3">COO<tspan dy="-9.5" font-size="18">-</tspan></text>
<line x1="306" y1="637.8" x2="306" y2="731.9" stroke="#808080" stroke-width="3.7" stroke-dasharray="11.5 5.1"/>
<line x1="143.1" y1="729.9" x2="280.8" y2="729.9" stroke="#808080" stroke-width="3.7" stroke-dasharray="11.5 5.1"/>
<line x1="356.8" y1="822.7" x2="501.1" y2="822.7" stroke="#808080" stroke-width="3.7" stroke-dasharray="11.5 5.1"/>
<text transform="matrix(1 0 0 1.04 302.4 660.7)" font-size="26" text-anchor="end" font-weight="bold">262.1</text>
<text transform="matrix(1 0 0 0.97 273.9 688.8)" font-size="22.5">-H</text>
<text transform="matrix(1 0 0 1.04 145 718.8)" font-size="26" font-weight="bold">140.9</text>
<text transform="matrix(1 0 0 0.97 215.1 720.8)" font-size="22.5">-H</text>
<text transform="matrix(1 0 0 1.04 147 757.3)" font-size="26" font-weight="bold">232.7</text>
<text transform="matrix(1 0 0 0.97 407 814.2)" font-size="22.5">+H</text>
<text transform="matrix(1 0 0 1.04 438.4 812.2)" font-size="26" font-weight="bold">277.0</text>
<rect x="1105.18" y="1200.29" width="3.4" height="3.31"/>
<rect x="1137.95" y="1199.84" width="3.4" height="3.76"/>
<rect x="1140.21" y="1168.66" width="4.3" height="34.94"/>
<rect x="1178.7" y="1160.08" width="4.3" height="43.52"/>
<rect x="1182.31" y="1187.19" width="4.3" height="16.41"/>
<rect x="1230.92" y="751.2" width="3.3" height="452.4"/>
<rect x="1255.08" y="1195.32" width="4.3" height="8.28"/>
<rect x="1259.74" y="1200.74" width="3.4" height="2.86"/>
<rect x="1301.98" y="1197.58" width="4.3" height="6.02"/>
<rect x="1313.71" y="1160.53" width="4.3" height="43.07"/>
<rect x="1316.87" y="1184.02" width="3.4" height="19.58"/>
<rect x="1332.81" y="1199.39" width="3.4" height="4.21"/>
<rect x="1335.66" y="1188.54" width="4.3" height="15.06"/>
<rect x="1339.12" y="1198.48" width="3.4" height="5.12"/>
<rect x="1356.41" y="1186.74" width="4.3" height="16.86"/>
<rect x="1369.34" y="1193.96" width="4.3" height="9.64"/>
<rect x="1375.36" y="1197.13" width="4.3" height="6.47"/>
<rect x="1386.48" y="1190.8" width="4.3" height="12.8"/>
<rect x="1390.04" y="997.43" width="5" height="206.17"/>
<rect x="1423.17" y="1160.53" width="4.3" height="43.07"/>
<rect x="1430.23" y="1199.84" width="3.4" height="3.76"/>
<rect x="1441.21" y="1196.67" width="4.3" height="6.93"/>
<rect x="1444.97" y="1198.48" width="3.4" height="5.12"/>
<rect x="1458.5" y="1200.29" width="3.4" height="3.31"/>
<rect x="1472.63" y="1200.29" width="3.4" height="3.31"/>
<rect x="1499.69" y="1195.32" width="3.4" height="8.28"/>
<rect x="1501.95" y="1187.64" width="4.3" height="15.96"/>
<rect x="1507.66" y="1171.83" width="4.3" height="31.77"/>
<rect x="1513.68" y="1169.57" width="4.3" height="34.03"/>
<rect x="1536.68" y="1199.39" width="3.4" height="4.21"/>
<rect x="1554.62" y="1180.86" width="3" height="22.74"/>
<rect x="1556.23" y="1124.84" width="4.6" height="78.76"/>
<rect x="1587.4" y="1162.34" width="3" height="41.26"/>
<rect x="1589.3" y="1100.44" width="4.6" height="103.16"/>
<rect x="1597.42" y="1200.74" width="3.4" height="2.86"/>
<rect x="1604.19" y="1191.7" width="4.3" height="11.89"/>
<rect x="1609.9" y="1188.54" width="4.3" height="15.06"/>
<rect x="1641.93" y="1198.48" width="3.4" height="5.12"/>
<rect x="1644.48" y="1193.06" width="4.3" height="10.54"/>
<rect x="1663.28" y="1173.18" width="4.6" height="30.42"/>
<rect x="1666.88" y="1183.57" width="3.4" height="20.03"/>
<rect x="1669.89" y="1178.6" width="4.6" height="25"/>
<rect x="1672.6" y="1189.45" width="3.4" height="14.15"/>
<rect x="1718" y="1170.47" width="4.6" height="33.13"/>
<rect x="1730.03" y="1161.89" width="4.6" height="41.71"/>
<rect x="1743.71" y="1197.58" width="4.3" height="6.02"/>
<rect x="1789.57" y="1145.62" width="4.6" height="57.98"/>
<rect x="1796.49" y="1142.91" width="4.6" height="60.69"/>
<rect x="1850.99" y="767.92" width="4.45" height="435.68"/>
<text transform="matrix(1 0 0 1.03 1206.3 1124.7)" font-size="19.8" text-anchor="middle">180.9</text>
<text transform="matrix(1 0 0 1.03 1206.3 1148.7)" font-size="19.8" text-anchor="middle">-44</text>
<text transform="matrix(1 0 0 0.97 1207.8 1182.9)" font-size="22.5" text-anchor="middle">137.1</text>
<text transform="matrix(1 0 0 0.97 1316.8 1152.1)" font-size="22.5" text-anchor="middle">180.9</text>
<text transform="matrix(1 0 0 1.03 1425.7 1103)" font-size="19.8" text-anchor="middle">261.0</text>
<text transform="matrix(1 0 0 1.03 1425.7 1127)" font-size="19.8" text-anchor="middle">-44</text>
<text transform="matrix(1 0 0 0.97 1425.7 1157.1)" font-size="22.5" text-anchor="middle">217.0</text>
<text transform="matrix(1 0 0 0.97 1558.5 1120.8)" font-size="22.5" text-anchor="middle">261.0</text>
<text transform="matrix(1 0 0 0.97 1623.8 1190.5)" font-size="22.5" text-anchor="middle">279.0</text>
<text transform="matrix(1 0 0 0.97 1647.8 1169.1)" font-size="22.5" text-anchor="middle">296.9</text>
<text transform="matrix(1 0 0 0.97 1706 1168.3)" font-size="22.5" text-anchor="middle">315.1</text>
<text transform="matrix(1 0 0 0.97 1763.5 1188.4)" font-size="22.5" text-anchor="middle">323.2</text>
<text transform="matrix(1 0 0 0.97 1800.1 1136.2)" font-size="22.5" text-anchor="middle">341.1</text>
<text transform="matrix(1 0 0 0.97 1854 763.4)" font-size="22.5" text-anchor="middle">359.1</text>
<text transform="matrix(1 0 0 0.97 1232.4 748.8)" font-size="22.5" text-anchor="middle" font-weight="bold">152.9</text>
<text transform="matrix(1 0 0 0.97 1392.3 990.6)" font-size="22.5" text-anchor="middle" font-weight="bold">205.9</text>
<line x1="1740.4" y1="702.1" x2="1859.6" y2="702.1" stroke-width="2.6" stroke="#000"/>
<polygon points="1730.9,702.1 1741.7,696.5 1741.7,707.7"/>
<line x1="1683.4" y1="702.1" x2="1729.9" y2="702.1" stroke-width="2.6" stroke="#000"/>
<polygon points="1673.9,702.1 1684.7,696.5 1684.7,707.7"/>
<line x1="1626.8" y1="702.1" x2="1672.9" y2="702.1" stroke-width="2.6" stroke="#000"/>
<polygon points="1617.3,702.1 1628.1,696.5 1628.1,707.7"/>
<line x1="1813" y1="727.6" x2="1859.6" y2="727.6" stroke-width="2.6" stroke="#000"/>
<polygon points="1803.5,727.6 1814.3,722 1814.3,733.2"/>
<line x1="1756.1" y1="727.6" x2="1802.5" y2="727.6" stroke-width="2.6" stroke="#000"/>
<polygon points="1746.6,727.6 1757.4,722 1757.4,733.2"/>
<text transform="matrix(1 0 0 1.01 1649.1 695.2)" font-size="19.4" text-anchor="middle" font-weight="bold">-18</text>
<text transform="matrix(1 0 0 1.01 1704.8 695.2)" font-size="19.4" text-anchor="middle" font-weight="bold">-18</text>
<text transform="matrix(1 0 0 1.01 1844.5 697.4)" font-size="19.4" text-anchor="middle" font-weight="bold">-44</text>
<text transform="matrix(1 0 0 1.01 1784.4 722.1)" font-size="19.4" text-anchor="middle" font-weight="bold">-18</text>
<text transform="matrix(1 0 0 1.01 1842.4 721.3)" font-size="19.4" text-anchor="middle" font-weight="bold">-18</text>
<polyline points="1362,708.3 1380.3,738.3 1417.5,738.3 1436.5,769 1417.5,798.4 1436.5,829.1 1417.5,859.1 1436.8,889.3 1417.5,919.8 1436.4,949.9 1473.6,949.9 1492.5,919.1 1529.3,919.1 1548.2,889.3 1529.3,859.3 1548.3,828.8 1585.5,828.8 1603.8,798.7 1641,798.7 1659.3,828.8 1696.5,828.8 1709.6,848.4" fill="none" stroke="#000" stroke-width="2.6" stroke-linejoin="miter" stroke-linecap="butt"/>
<line x1="1413.49" y1="745.88" x2="1427.93" y2="769.21" stroke-width="2.6" stroke="#000"/>
<line x1="1426.05" y1="858.74" x2="1443.04" y2="885.32" stroke-width="2.6" stroke="#000"/>
<line x1="1426.03" y1="919.48" x2="1440.4" y2="942.35" stroke-width="2.6" stroke="#000"/>
<line x1="1469.56" y1="942.33" x2="1486.19" y2="915.23" stroke-width="2.6" stroke="#000"/>
<line x1="1537.86" y1="859.55" x2="1552.3" y2="836.37" stroke-width="2.6" stroke="#000"/>
<line x1="1608.26" y1="805.5" x2="1636.54" y2="805.5" stroke-width="2.6" stroke="#000"/>
<line x1="1443.25" y1="827.45" x2="1443.25" y2="830.75" stroke-width="2.8" stroke="#000"/>
<line x1="1451.12" y1="825.52" x2="1451.12" y2="832.68" stroke-width="2.8" stroke="#000"/>
<line x1="1459" y1="823.6" x2="1459" y2="834.6" stroke-width="2.8" stroke="#000"/>
<line x1="1535.39" y1="923.16" x2="1532.99" y2="925.42" stroke-width="2.8" stroke="#000"/>
<line x1="1542.5" y1="927.89" x2="1537.29" y2="932.8" stroke-width="2.8" stroke="#000"/>
<line x1="1549.6" y1="932.63" x2="1541.6" y2="940.17" stroke-width="2.8" stroke="#000"/>
<text transform="matrix(1 0 0 1 1463.5 840.8)" font-size="26.3">OH</text>
<text transform="matrix(1 0 0 1 1545.7 956.4)" font-size="26.3">OH</text>
<text transform="matrix(1 0 0 1 1706.6 870.5)" font-size="26.3">COO<tspan dy="-9.5" font-size="18">-</tspan></text>
<line x1="1324.8" y1="813" x2="1446.3" y2="813" stroke="#808080" stroke-width="3.7" stroke-dasharray="11.5 5.1"/>
<line x1="1509.3" y1="899.6" x2="1509.3" y2="1004.7" stroke="#808080" stroke-width="3.7" stroke-dasharray="11.5 5.1"/>
<line x1="1525.8" y1="903" x2="1653.4" y2="903" stroke="#808080" stroke-width="3.7" stroke-dasharray="11.5 5.1"/>
<text transform="matrix(1 0 0 1.04 1326 834.9)" font-size="26" font-weight="bold">261.0</text>
<text transform="matrix(1 0 0 0.97 1391.6 833.6)" font-size="22.5">+H</text>
<text transform="matrix(1 0 0 0.97 1562.8 892.7)" font-size="22.5">+H</text>
<text transform="matrix(1 0 0 1.04 1594 891.4)" font-size="26" font-weight="bold">152.9</text>
<text transform="matrix(1 0 0 0.97 1563.5 926)" font-size="22.5">-H</text>
<text transform="matrix(1 0 0 1.04 1591.4 926)" font-size="26" font-weight="bold">205.9</text>
<text transform="matrix(1 0 0 0.97 1516.2 977.3)" font-size="22.5">-H</text>
<text transform="matrix(1 0 0 1.04 1514.6 1002.1)" font-size="26" font-weight="bold">180.9</text>
</svg>
</body>
</html>
